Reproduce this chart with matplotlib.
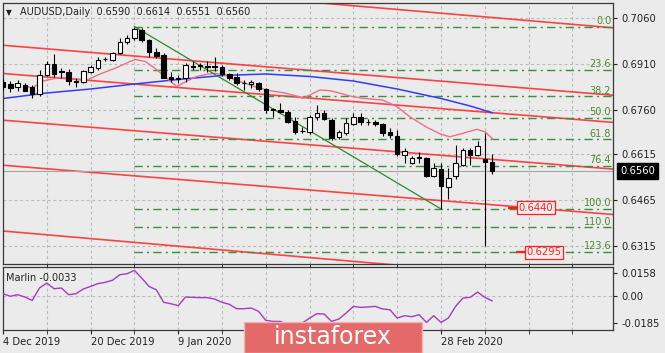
import numpy as np
import matplotlib
matplotlib.use("Agg")
import matplotlib.pyplot as plt
from matplotlib.patches import Rectangle
from matplotlib.transforms import blended_transform_factory

# AUDUSD daily candles, 4 Dec 2019 .. 10 Mar 2020 (one bar per trading day)
opens = [0.6851, 0.6845, 0.6834, 0.6842, 0.6836, 0.6812, 0.6874, 0.6910, 0.6886, 0.6885,
         0.6853, 0.6852, 0.6885, 0.6896, 0.6925, 0.6923, 0.6945, 0.6980, 0.6994, 0.7021,
         0.6988, 0.6948, 0.6939, 0.6866, 0.6862, 0.6863, 0.6902, 0.6904, 0.6902, 0.6903,
         0.6901, 0.6876, 0.6866, 0.6849, 0.6845, 0.6847, 0.6828, 0.6761, 0.6760, 0.6753,
         0.6722, 0.6690, 0.6689, 0.6738, 0.6751, 0.6727, 0.6671, 0.6684, 0.6714, 0.6736,
         0.6721, 0.6719, 0.6714, 0.6686, 0.6673, 0.6613, 0.6586, 0.6605, 0.6603, 0.6543,
         0.6565, 0.6508, 0.6543, 0.6581, 0.6627, 0.6613, 0.6600, 0.6590]
highs = [0.6861, 0.6855, 0.6858, 0.6847, 0.6842, 0.6890, 0.6918, 0.6943, 0.6897, 0.6894,
         0.6864, 0.6890, 0.6907, 0.6931, 0.6934, 0.6950, 0.6994, 0.7005, 0.7032, 0.7026,
         0.6992, 0.6961, 0.6945, 0.6883, 0.6874, 0.6912, 0.6918, 0.6914, 0.6918, 0.6934,
         0.6907, 0.6880, 0.6880, 0.6858, 0.6858, 0.6852, 0.6831, 0.6766, 0.6782, 0.6758,
         0.6738, 0.6705, 0.6744, 0.6776, 0.6760, 0.6733, 0.6695, 0.6733, 0.6751, 0.6749,
         0.6730, 0.6727, 0.6717, 0.6700, 0.6695, 0.6635, 0.6608, 0.6621, 0.6606, 0.6586,
         0.6586, 0.6570, 0.6646, 0.6635, 0.6635, 0.6657, 0.6684, 0.6614]
lows = [0.6825, 0.6819, 0.6823, 0.6820, 0.6798, 0.6806, 0.6869, 0.6868, 0.6864, 0.6842,
        0.6836, 0.6848, 0.6881, 0.6890, 0.6918, 0.6920, 0.6942, 0.6975, 0.6988, 0.6981,
        0.6931, 0.6929, 0.6863, 0.6852, 0.6847, 0.6852, 0.6890, 0.6890, 0.6885, 0.6887,
        0.6872, 0.6858, 0.6842, 0.6825, 0.6832, 0.6820, 0.6751, 0.6736, 0.6749, 0.6717,
        0.6682, 0.6684, 0.6682, 0.6727, 0.6727, 0.6662, 0.6665, 0.6679, 0.6711, 0.6711,
        0.6711, 0.6708, 0.6673, 0.6668, 0.6610, 0.6586, 0.6584, 0.6586, 0.6541, 0.6541,
        0.6436, 0.6467, 0.6534, 0.6575, 0.6581, 0.6608, 0.6314, 0.6551]
closes = [0.6835, 0.6832, 0.6847, 0.6823, 0.6812, 0.6873, 0.6909, 0.6876, 0.6882, 0.6855,
          0.6851, 0.6887, 0.6901, 0.6923, 0.6927, 0.6945, 0.6983, 0.6996, 0.7023, 0.6988,
          0.6948, 0.6937, 0.6865, 0.6860, 0.6865, 0.6907, 0.6900, 0.6906, 0.6899, 0.6900,
          0.6876, 0.6865, 0.6847, 0.6846, 0.6851, 0.6829, 0.6758, 0.6759, 0.6753, 0.6719,
          0.6686, 0.6692, 0.6738, 0.6749, 0.6730, 0.6668, 0.6686, 0.6717, 0.6736, 0.6719,
          0.6719, 0.6715, 0.6684, 0.6678, 0.6617, 0.6624, 0.6603, 0.6603, 0.6543, 0.6570,
          0.6512, 0.6537, 0.6586, 0.6627, 0.6613, 0.6643, 0.6590, 0.6560]

# date labels that are visible (the ones at bars 36 and 48 sit under the logo)
date_label_bars = [0, 12, 24, 60]
date_labels = ["4 Dec 2019", "20 Dec 2019", "9 Jan 2020", "28 Feb 2020"]
price_ticks = [0.7060, 0.6910, 0.6760, 0.6615, 0.6465, 0.6315]

# moving averages: bar index -> price
blue_ma_bars = [0, 6, 12, 18, 24, 30, 36, 42, 48, 54, 60, 64, 67]
blue_ma = [0.67969, 0.68149, 0.68280, 0.68443, 0.68590, 0.68721, 0.68770, 0.68688,
           0.68541, 0.68280, 0.67969, 0.67724, 0.67505]
pink_ma_bars = [3.0, 4.0, 5.5, 7.8, 10.1, 11.5, 13.3, 15.6, 17.4, 18.1, 19.5, 20.8, 22.2,
                23.8, 25.2, 26.5, 27.9, 29.0, 30.4, 31.8, 33.2, 34.5, 36.6, 38.4, 40.2,
                41.1, 42.3, 43.4, 44.8, 46.2, 47.5, 49.3, 52.0, 54.0, 55.7, 58.1, 59.9,
                61.2, 63.0, 64.9, 66.0, 67.1]
pink_ma = [0.68378, 0.68312, 0.68541, 0.68656, 0.68607, 0.68574, 0.68770, 0.68982, 0.69178,
           0.69244, 0.69178, 0.68956, 0.68682, 0.68361, 0.68541, 0.68682, 0.68760, 0.68793,
           0.68737, 0.68574, 0.68466, 0.68355, 0.68224, 0.68159, 0.68051, 0.67976, 0.68116,
           0.68247, 0.68224, 0.68139, 0.68051, 0.67976, 0.67920, 0.67701, 0.67374, 0.67022,
           0.66809, 0.66718, 0.66832, 0.66963, 0.66884, 0.66646]

marlin = [0.0016, -0.0002, 0.0009, -0.0007, -0.0030, 0.0055, 0.0089, 0.0050, 0.0055, 0.0009,
          0.0016, 0.0048, 0.0066, 0.0085, 0.0094, 0.0108, 0.0146, 0.0153, 0.0176, 0.0123,
          0.0066, 0.0043, -0.0043, -0.0053, -0.0066, -0.0007, -0.0009, -0.0011, -0.0011, -0.0021,
          -0.0043, -0.0057, -0.0087, -0.0087, -0.0082, -0.0105, -0.0167, -0.0174, -0.0174, -0.0195,
          -0.0205, -0.0185, -0.0151, -0.0121, -0.0124, -0.0174, -0.0158, -0.0117, -0.0071, -0.0078,
          -0.0075, -0.0071, -0.0089, -0.0094, -0.0151, -0.0135, -0.0142, -0.0128, -0.0181, -0.0135,
          -0.0181, -0.0151, -0.0071, -0.0014, -0.0009, 0.0027, -0.0009, -0.0033]
marlin_ticks = [0.0158, 0.0, -0.0185]
marlin_tick_labels = ["0.0158", "0.00", "-0.0185"]

# fibonacci grid from the 31 Dec high to the 28 Feb low
fib_high_bar = 18
fib_low_bar = 60
fib_ratios = [0.0, 23.6, 38.2, 50.0, 61.8, 76.4, 100.0, 110.0, 123.6]

# channel lines, two points each: (bar, price)
channel_lines = [
    ((0, 0.71973), (80, 0.70352)),
    ((0, 0.69709), (80, 0.68146)),
    ((0, 0.68786), (80, 0.67257)),
    ((0, 0.67260), (80, 0.65731)),
    ((0, 0.65789), (80, 0.64247)),
    ((0, 0.63639), (80, 0.61986)),
]

target_prices = [0.6440, 0.6295]

# ---- figure ----
W, H = 665, 353
bg = "#ebebeb"
fig = plt.figure(figsize=(W / 100, H / 100), dpi=100, facecolor=bg)

def frame(x0, y0, x1, y1):
    return [x0 / W, 1 - y1 / H, (x1 - x0) / W, (y1 - y0) / H]

ax = fig.add_axes(frame(2.5, 3, 613, 264), facecolor=bg)
ax2 = fig.add_axes(frame(2.5, 267, 613, 330), facecolor=bg, sharex=ax)

xmax = 83.56
ax.set_xlim(-0.07, xmax)
ax.set_ylim(0.62561, 0.7109)
ax2.set_ylim(-0.0233, 0.0199)

grid_kw = dict(color="#b9b9b9", lw=0.8, ls=(0, (2.5, 2.5)), zorder=0)
for a in (ax, ax2):
    for s in a.spines.values():
        s.set_color("#3a3a3a")
        s.set_linewidth(0.9)
    for gx in range(0, 85, 6):
        a.axvline(gx, **grid_kw)
for p in price_ticks:
    ax.axhline(p, **grid_kw)
ax2.axhline(0.0, **grid_kw)

# channel lines
for (b0, p0), (b1, p1) in channel_lines:
    slope = (p1 - p0) / (b1 - b0)
    xs = np.array([-1, xmax + 1])
    ax.plot(xs, p0 + slope * (xs - b0), color="#ff3030", lw=1.2, alpha=0.9, zorder=1)

# moving averages
ax.plot(blue_ma_bars, blue_ma, color="#2f3cff", lw=1.1, zorder=2)
ax.plot(pink_ma_bars, pink_ma, color="#f06d8a", lw=1.0, zorder=2)

# fibonacci levels
fib_high = highs[fib_high_bar]
fib_low = lows[fib_low_bar]
lbl_tr = blended_transform_factory(ax.transAxes, ax.transData)
for r in fib_ratios:
    lvl = fib_high - r / 100 * (fib_high - fib_low)
    ax.hlines(lvl, fib_high_bar, xmax, color="#3d8f3d", lw=1.0,
              ls=(0, (6, 3, 1.5, 3)), zorder=1)
    ax.text(0.997, lvl + 0.0002, f"{r:.1f}", transform=lbl_tr, ha="right", va="bottom",
            fontsize=7, color="#4f8a2c", zorder=5)

# trend line from the high to the low
ax.plot([fib_high_bar, fib_low_bar], [fib_high, fib_low], color="#2c8a2c", lw=0.9, zorder=2)

# bid line
ax.axhline(closes[-1], color="#a5a5a5", lw=0.8, zorder=1)

# candles
x = np.arange(len(opens))
o, hi, lo, c = map(np.array, (opens, highs, lows, closes))
ax.vlines(x, lo, hi, color="black", lw=0.8, zorder=3)
body_lo = np.minimum(o, c)
body_h = np.maximum(np.abs(c - o), 0.00004)
ax.bar(x, body_h, width=0.62, bottom=body_lo,
       color=np.where(c >= o, "white", "black"), edgecolor="black", linewidth=0.8, zorder=4)

# target labels
for p, bx in zip(target_prices, [73.0, 74.1]):
    ax.hlines(p, bx - 3.8, bx - 2.5, color="#ff2020", lw=1.6, zorder=5)
    ax.text(bx, p, f"{p:.4f}", ha="center", va="center", fontsize=7.2, color="#ff2020",
            zorder=6, bbox=dict(boxstyle="square,pad=0.15", fc="#f3eeee", ec="#ff2020", lw=0.9))

# right price axis
ax.yaxis.tick_right()
ax.set_yticks(price_ticks)
ax.set_yticklabels([f"{p:.4f}" for p in price_ticks])
ax.tick_params(axis="y", length=3, pad=3, labelsize=7.2, colors="#222222")
ax.tick_params(axis="x", bottom=False, labelbottom=False)
ax.text(1.012, closes[-1], f"{closes[-1]:.4f}", transform=lbl_tr, ha="left", va="center",
        fontsize=7.2, color="white", zorder=6,
        bbox=dict(boxstyle="square,pad=0.3", fc="black", ec="black"))

# title
ax.text(0.005, 0.965, "\u25bc", transform=ax.transAxes, fontsize=5.5, va="center", color="#222222")
ax.text(0.028, 0.965, "AUDUSD,Daily  0.6590  0.6614  0.6551  0.6560", transform=ax.transAxes,
        fontsize=7, va="center", color="#222222")

# Marlin panel
ax2.plot(x, marlin, color="#a23cc0", lw=1.0, zorder=3)
ax2.yaxis.tick_right()
ax2.set_yticks(marlin_ticks)
ax2.set_yticklabels(marlin_tick_labels)
ax2.tick_params(axis="y", length=3, pad=3, labelsize=7.2, colors="#222222")
ax2.text(0.006, 0.9, f"Marlin {marlin[-1]:.4f}", transform=ax2.transAxes, fontsize=7,
         va="top", color="#222222")

ax2.set_xticks(date_label_bars)
ax2.set_xticklabels(date_labels, ha="left")
ax2.set_xticks([6, 18, 30, 36, 42, 48, 54, 66, 72, 78], minor=True)
ax2.tick_params(axis="x", which="both", length=3, pad=2, labelsize=7.2, colors="#222222")

# watermark
fig.add_artist(Rectangle((244 / W, 0), 178 / W, 31 / H, transform=fig.transFigure,
                         fc="#e46a6a", ec="#f0b4b4", lw=1.0, zorder=10))
fig.text(333 / W, 16 / H, "instaforex", ha="center", va="center", fontsize=17,
         color="white", zorder=11)

fig.savefig("out.png", dpi=100, facecolor=bg)
